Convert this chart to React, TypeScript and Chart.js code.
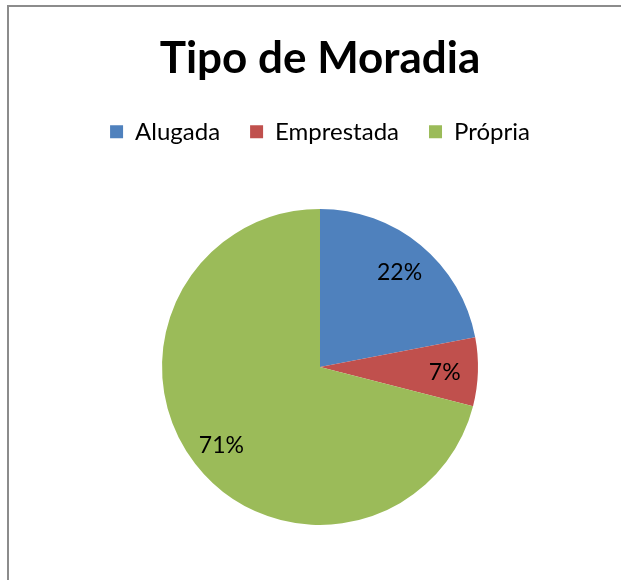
import React, { useEffect, useRef } from "react";
import { Chart, registerables } from "chart.js";

Chart.register(...registerables);

const TITLE = "Tipo de Moradia";
const categories = ["Alugada", "Emprestada", "Própria"];
const values = [22, 7, 71];
const colors = ["#4F81BD", "#C0504D", "#9BBB59"];

const FONT = "Lato, 'Open Sans', sans-serif";

const pieLabels = {
  id: "pieLabels",
  afterDatasetsDraw(chart: any) {
    const ctx = chart.ctx;
    const meta = chart.getDatasetMeta(0);
    const data = chart.data.datasets[0].data as number[];
    const total = data.reduce((a, b) => a + b, 0);
    ctx.save();
    ctx.font = `23px ${FONT}`;
    ctx.fillStyle = "#000";
    ctx.textAlign = "center";
    ctx.textBaseline = "middle";
    meta.data.forEach((arc: any, i: number) => {
      const p = arc.getProps(["x", "y", "startAngle", "endAngle", "outerRadius"], true);
      const mid = (p.startAngle + p.endAngle) / 2;
      const r = p.outerRadius * 0.79;
      const x = p.x + Math.cos(mid) * r;
      const y = p.y + Math.sin(mid) * r + 2;
      ctx.fillText(Math.round((data[i] / total) * 100) + "%", x, y);
    });
    ctx.restore();
  },
};

export default function App() {
  const ref = useRef<HTMLCanvasElement | null>(null);
  useEffect(() => {
    if (!ref.current) return;
    const chart = new Chart(ref.current, {
      type: "pie",
      data: {
        labels: categories,
        datasets: [
          {
            data: values,
            backgroundColor: colors,
            borderWidth: 0,
          },
        ],
      },
      options: {
        animation: false,
        responsive: false,
        radius: 158,
        layout: { padding: { left: 19, right: 0, top: 0, bottom: -8 } },
        plugins: {
          title: {
            display: true,
            text: TITLE,
            color: "#000",
            font: { family: FONT, size: 44, weight: "bold" },
            padding: { top: 32, bottom: 5 },
          },
          legend: {
            display: true,
            position: "top",
            labels: {
              color: "#000",
              font: { family: FONT, size: 24 },
              boxWidth: 13,
              boxHeight: 13,
              padding: 30,
            },
          },
          tooltip: { enabled: false },
        },
      } as any,
      plugins: [pieLabels],
    });
    return () => chart.destroy();
  }, []);

  return (
    <div
      style={{
        position: "fixed",
        left: 0,
        top: 0,
        width: 621,
        height: 580,
        background: "#fff",
        overflow: "hidden",
      }}
    >
      <div
        style={{
          position: "absolute",
          left: 7,
          top: 5,
          right: -10,
          bottom: -10,
          borderLeft: "2px solid #8c8c8c",
          borderTop: "2px solid #8c8c8c",
        }}
      />
      <canvas
        ref={ref}
        width={621}
        height={580}
        style={{ position: "absolute", left: 0, top: 0, width: 621, height: 580 }}
      />
    </div>
  );
}
